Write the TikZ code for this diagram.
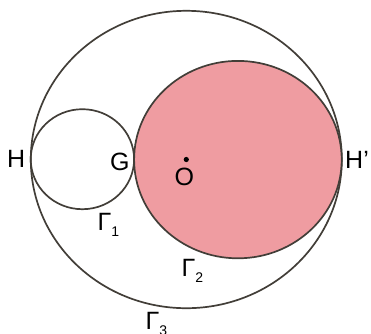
\documentclass[tikz,border=0pt]{standalone}
\usepackage{fontspec}
\setmainfont{Liberation Sans}
\definecolor{circleInk}{RGB}{66,62,56}
\definecolor{discFill}{RGB}{239,156,161}
\tikzset{
  ring/.style={draw=circleInk, line width=1.7pt},
  ptlabel/.style={anchor=base west, inner sep=0pt, font=\fontsize{25}{25}\selectfont}
}
\newcommand{\gsub}[1]{\raisebox{-6pt}{\fontsize{14}{14}\selectfont #1}}

\begin{document}
\begin{tikzpicture}[x=1pt, y=-1pt]
    \useasboundingbox (0,0) rectangle (371,333);
    % the three circles
    \coordinate (c3) at (186.3,159.5);
    \coordinate (c1) at (82.4,159.2);
    \coordinate (c2) at (237.9,159.6);
    \draw[ring] (c3) ellipse [x radius=155.5, y radius=148.7];
    \draw[ring] (c1) ellipse [x radius=51.7, y radius=50];
    \draw[ring, fill=discFill] (c2) ellipse [x radius=103.8, y radius=98.7];
    % centre point
    \fill[black] (c3) circle (2.6);
    % labels
    \node[ptlabel] (h) at (7,167.5) {H};
    \node[ptlabel] (g) at (110,170.5) {G};
    \node[ptlabel] (o) at (174.5,185) {O};
    \node[ptlabel] (hp) at (345,168) {H’};
    \node[ptlabel] (g1) at (97.5,230.5) {Γ\gsub{1}};
    \node[ptlabel] (g2) at (181.5,276) {Γ\gsub{2}};
    \node[ptlabel] (g3) at (145.5,329) {Γ\gsub{3}};
\end{tikzpicture}
\end{document}
